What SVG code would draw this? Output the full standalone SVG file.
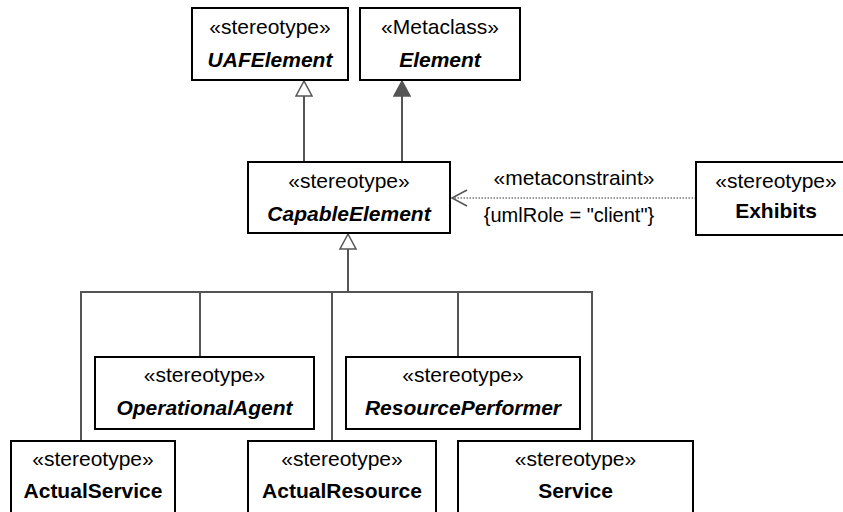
<svg xmlns="http://www.w3.org/2000/svg" width="843" height="512" viewBox="0 0 843 512">
<style>
.box{fill:#fff;stroke:#000;stroke-width:2}
.st{font-family:"Liberation Sans",Arial,sans-serif;font-size:21px;text-anchor:middle;fill:#000}
.nm{font-family:"Liberation Sans",Arial,sans-serif;font-size:21px;font-weight:bold;text-anchor:middle;fill:#000}
.it{font-style:italic}
.ln{fill:none;stroke:#555;stroke-width:2}
.dep{fill:none;stroke:#777;stroke-width:1.5;stroke-dasharray:1.5 1.5}
.lbl{font-family:"Liberation Sans",Arial,sans-serif;text-anchor:middle;fill:#000}
</style>
<defs>
<marker id="gen" markerWidth="18" markerHeight="18" viewBox="0 0 18 18" refX="16" refY="9" orient="auto" markerUnits="userSpaceOnUse">
<path d="M16,9 L1,1 L1,17 Z" fill="#fff" stroke="#555" stroke-width="1.5"/>
</marker>
<marker id="ext" markerWidth="18" markerHeight="18" viewBox="0 0 18 18" refX="16" refY="9" orient="auto" markerUnits="userSpaceOnUse">
<path d="M16,9 L1,1 L1,17 Z" fill="#555" stroke="#555" stroke-width="1.5"/>
</marker>
<marker id="open" markerWidth="18" markerHeight="18" viewBox="0 0 18 18" refX="16" refY="9" orient="auto" markerUnits="userSpaceOnUse">
<path d="M1,1 L16,9 L1,17" fill="none" stroke="#555" stroke-width="1.5"/>
</marker>
</defs>
<rect width="843" height="512" fill="#fff"/>
<g id="connectors">
<path class="ln" d="M304,162 V81" marker-end="url(#gen)"/>
<path class="ln" d="M402,162 V81" marker-end="url(#ext)"/>
<path class="ln" d="M81,441 V292 H592 V441 M200,292 V357 M332,292 V441 M458,292 V357"/>
<path class="ln" d="M348,292 V234" marker-end="url(#gen)"/>
<path class="dep" d="M696,198 H452" marker-end="url(#open)"/>
<text class="lbl" x="574" y="185" font-size="21">«metaconstraint»</text>
<text class="lbl" x="569" y="222" font-size="20">{umlRole = "client"}</text>
</g>
<g id="UAFElement">
<rect class="box" x="192" y="8" width="156" height="72"/>
<text class="st" x="270" y="34">«stereotype»</text>
<text class="nm it" x="270" y="67">UAFElement</text>
</g>
<g id="Element">
<rect class="box" x="360" y="8" width="160" height="72"/>
<text class="st" x="440" y="34">«Metaclass»</text>
<text class="nm it" x="440" y="67">Element</text>
</g>
<g id="CapableElement">
<rect class="box" x="248" y="162" width="202" height="71"/>
<text class="st" x="349" y="188">«stereotype»</text>
<text class="nm it" x="349" y="221">CapableElement</text>
</g>
<g id="Exhibits">
<rect class="box" x="696" y="162" width="160" height="73"/>
<text class="st" x="776" y="188">«stereotype»</text>
<text class="nm" x="776" y="218">Exhibits</text>
</g>
<g id="OperationalAgent">
<rect class="box" x="95" y="357" width="219" height="72"/>
<text class="st" x="204.5" y="382">«stereotype»</text>
<text class="nm it" x="204.5" y="415">OperationalAgent</text>
</g>
<g id="ResourcePerformer">
<rect class="box" x="346" y="357" width="234" height="72"/>
<text class="st" x="463" y="382">«stereotype»</text>
<text class="nm it" x="463" y="415">ResourcePerformer</text>
</g>
<g id="ActualService">
<rect class="box" x="11" y="441" width="164" height="80"/>
<text class="st" x="93" y="466">«stereotype»</text>
<text class="nm" x="93" y="498">ActualService</text>
</g>
<g id="ActualResource">
<rect class="box" x="248" y="441" width="188" height="80"/>
<text class="st" x="342" y="466">«stereotype»</text>
<text class="nm" x="342" y="498">ActualResource</text>
</g>
<g id="Service">
<rect class="box" x="458" y="441" width="235" height="80"/>
<text class="st" x="575.5" y="466">«stereotype»</text>
<text class="nm" x="575.5" y="498">Service</text>
</g>
</svg>
